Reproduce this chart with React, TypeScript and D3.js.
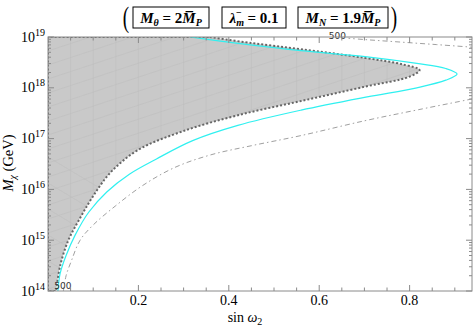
import React, { useEffect, useRef } from 'react';
import * as d3 from 'd3';

const width = 475;
const height = 327;
const margin = { top: 37, right: 3, bottom: 36, left: 48 };

// axis settings
const xDomain = [0, 0.938];
const yExpDomain = [14, 19];
const xMajor = [0.2, 0.4, 0.6, 0.8];
const yDecades = [14, 15, 16, 17, 18, 19];

// excluded (shaded) region boundary: [sin w2, log10 M_chi]
const regionEdge: [number, number][] = [
  [0.358, 19.0], [0.45, 18.88], [0.56, 18.76], [0.70, 18.59], [0.785, 18.46],
  [0.822, 18.35], [0.80, 18.22], [0.70, 18.02], [0.56, 17.74], [0.42, 17.46],
  [0.30, 17.15], [0.20, 16.78], [0.14, 16.35], [0.10, 15.87], [0.07, 15.42],
  [0.045, 15.0], [0.027, 14.5], [0.018, 14.0],
];

// cyan contour
const cyanCurve: [number, number][] = [
  [0.314, 19.0], [0.425, 18.87], [0.56, 18.73], [0.706, 18.61], [0.816, 18.48],
  [0.88, 18.38], [0.905, 18.27], [0.88, 18.15], [0.816, 18.0], [0.706, 17.82],
  [0.56, 17.56], [0.42, 17.26], [0.32, 16.96], [0.24, 16.6], [0.18, 16.3],
  [0.13, 15.95], [0.09, 15.55], [0.06, 15.1], [0.04, 14.7], [0.027, 14.35],
  [0.022, 14.0],
];

// "500" contour (dash-dot)
const dashUpper: [number, number][] = [
  [0.63, 19.0], [0.70, 18.95], [0.78, 18.9], [0.86, 18.85], [0.938, 18.8],
];
const dashLower: [number, number][] = [
  [0.938, 17.78], [0.82, 17.57], [0.70, 17.35], [0.56, 17.06], [0.45, 16.86],
  [0.36, 16.68], [0.28, 16.43], [0.21, 16.08], [0.15, 15.68], [0.10, 15.3],
  [0.071, 15.0], [0.052, 14.6], [0.040, 14.3], [0.034, 14.0],
];

const App = () => {
  const svgRef = useRef<SVGSVGElement | null>(null);

  useEffect(() => {
    if (!svgRef.current) return;
    const svg = d3.select(svgRef.current);
    svg.selectAll('*').remove();

    const x = d3.scaleLinear().domain(xDomain).range([margin.left, width - margin.right]);
    const y = d3.scaleLog()
      .domain([Math.pow(10, yExpDomain[0]), Math.pow(10, yExpDomain[1])])
      .range([height - margin.bottom, margin.top]);
    const py = (e: number) => y(Math.pow(10, e));

    const x0 = x.range()[0], x1 = x.range()[1];
    const y0 = py(yExpDomain[1]), y1 = py(yExpDomain[0]);

    svg.append('clipPath').attr('id', 'plotClip')
      .append('rect').attr('x', x0).attr('y', y0).attr('width', x1 - x0).attr('height', y1 - y0);

    const curve = d3.line<[number, number]>()
      .x(d => x(d[0]))
      .y(d => py(d[1]))
      .curve(d3.curveCatmullRom.alpha(0.5));

    const plot = svg.append('g').attr('clip-path', 'url(#plotClip)');

    // shaded region
    const regionPath = curve(regionEdge) + `L${x(0)},${py(14)}L${x(0)},${py(19)}Z`;
    svg.append('clipPath').attr('id', 'regionClip').append('path').attr('d', regionPath);
    plot.append('path').attr('d', regionPath).attr('fill', '#c9c9c9').attr('stroke', 'none');

    // faint mesh inside region
    const mesh = plot.append('g').attr('clip-path', 'url(#regionClip)')
      .attr('stroke', '#bcbcbc').attr('stroke-width', 0.5).attr('fill', 'none');
    d3.range(0.05, 0.9, 0.05).forEach(v => {
      mesh.append('line').attr('x1', x(v)).attr('x2', x(v)).attr('y1', y0).attr('y2', y1);
    });
    d3.range(-20, 40).forEach(i => {
      const b = y0 + i * 14;
      mesh.append('line').attr('x1', x0).attr('y1', b).attr('x2', x1).attr('y2', b - (x1 - x0) * 0.33);
    });
    d3.range(0, 12).forEach(i => {
      const b = y0 + 120 + i * 26;
      mesh.append('line').attr('x1', x0).attr('y1', b).attr('x2', x1).attr('y2', b + (x1 - x0) * 0.6);
    });

    plot.append('path').attr('d', regionPath)
      .attr('fill', 'none').attr('stroke', '#666').attr('stroke-width', 2).attr('stroke-dasharray', '2,2');

    // dash-dot contour
    [dashUpper, dashLower].forEach(pts => {
      plot.append('path').attr('d', curve(pts))
        .attr('fill', 'none').attr('stroke', '#a0a0a0').attr('stroke-width', 1)
        .attr('stroke-dasharray', '5,3,1.5,3');
    });

    // cyan contour
    plot.append('path').attr('d', curve(cyanCurve))
      .attr('fill', 'none').attr('stroke', '#30f0f0').attr('stroke-width', 1.2);

    // contour labels
    const lab = svg.append('g').attr('font-family', 'DejaVu Sans, sans-serif').attr('font-size', 9).attr('fill', '#333');
    lab.append('rect').attr('x', x(0.625)).attr('y', y0 - 4).attr('width', 18).attr('height', 6).attr('fill', 'white');
    lab.append('text').attr('x', x(0.64)).attr('y', y0 + 1.5).attr('text-anchor', 'middle').text('500');
    lab.append('text').attr('x', x(0.033)).attr('y', y1 - 2).attr('text-anchor', 'middle').text('500');

    // frame and ticks
    const frame = svg.append('g').attr('stroke', '#8a8a8a').attr('stroke-width', 1).attr('fill', 'none');
    frame.append('rect').attr('x', x0).attr('y', y0).attr('width', x1 - x0).attr('height', y1 - y0);

    const xMinor = d3.range(0.05, 0.94, 0.05);
    xMinor.forEach(v => {
      const major = xMajor.some(m => Math.abs(m - v) < 1e-6);
      const len = major ? 6 : 3.5;
      frame.append('line').attr('x1', x(v)).attr('x2', x(v)).attr('y1', y1).attr('y2', y1 - len);
      frame.append('line').attr('x1', x(v)).attr('x2', x(v)).attr('y1', y0).attr('y2', y0 + len);
    });
    yDecades.forEach(e => {
      [0, 1].forEach(side => {
        const xe = side === 0 ? x0 : x1;
        const dir = side === 0 ? 1 : -1;
        frame.append('line').attr('x1', xe).attr('x2', xe + dir * 6).attr('y1', py(e)).attr('y2', py(e));
        if (e < 19) {
          d3.range(2, 10).forEach(k => {
            const yy = py(e + Math.log10(k));
            frame.append('line').attr('x1', xe).attr('x2', xe + dir * 3).attr('y1', yy).attr('y2', yy);
          });
        }
      });
    });

    const labels = svg.append('g').attr('font-family', 'Liberation Serif, serif').attr('fill', '#000');
    xMajor.forEach(v => {
      labels.append('text').attr('x', x(v)).attr('y', y1 + 14).attr('text-anchor', 'middle')
        .attr('font-size', 14).text(d3.format('.1f')(v));
    });
    yDecades.forEach(e => {
      const t = labels.append('text').attr('x', x0 - 3).attr('y', py(e) + 4.5)
        .attr('text-anchor', 'end').attr('font-size', 14);
      t.append('tspan').text('10');
      t.append('tspan').attr('font-size', 10).attr('dy', -6).text(String(e));
    });

    // axis titles
    const xt = labels.append('text').attr('x', 245).attr('y', 322).attr('text-anchor', 'middle').attr('font-size', 14);
    xt.append('tspan').text('sin ');
    xt.append('tspan').attr('font-style', 'italic').text('ω');
    xt.append('tspan').attr('font-size', 10).attr('dy', 3).text('2');

    const yt = labels.append('text').attr('transform', `translate(13,${163}) rotate(-90)`)
      .attr('text-anchor', 'middle').attr('font-size', 14.5);
    yt.append('tspan').attr('font-style', 'italic').text('M');
    yt.append('tspan').attr('font-size', 10).attr('dy', 3).attr('font-style', 'italic').text('χ');
    yt.append('tspan').attr('dy', -3).text(' (GeV)');

    // header with boxed parameters
    const hdr = svg.append('g').attr('font-family', 'Liberation Serif, serif').attr('font-weight', 'bold').attr('font-style', 'italic');
    hdr.append('text').attr('transform', 'translate(126,27) scale(0.8,1.25)').attr('font-size', 24)
      .attr('font-style', 'normal').attr('font-weight', 'normal').attr('text-anchor', 'middle').text('(');
    hdr.append('text').attr('transform', 'translate(394,27) scale(0.8,1.25)').attr('font-size', 24)
      .attr('font-style', 'normal').attr('font-weight', 'normal').attr('text-anchor', 'middle').text(')');
    const boxes = [[133, 209], [222, 286], [298, 388]];
    boxes.forEach(b => {
      hdr.append('rect').attr('x', b[0]).attr('y', 7).attr('width', b[1] - b[0]).attr('height', 21)
        .attr('fill', 'none').attr('stroke', '#000').attr('stroke-width', 1);
    });
    const t1 = hdr.append('text').attr('x', 171).attr('y', 23).attr('text-anchor', 'middle').attr('font-size', 15);
    t1.append('tspan').text('M');
    t1.append('tspan').attr('font-size', 10).attr('dy', 3).text('θ');
    t1.append('tspan').attr('dy', -3).attr('font-style', 'normal').text(' = 2');
    t1.append('tspan').text('M\u0305');
    t1.append('tspan').attr('font-size', 10).attr('dy', 3).text('P');

    const t2 = hdr.append('text').attr('x', 254).attr('y', 23).attr('text-anchor', 'middle').attr('font-size', 15);
    t2.append('tspan').text('λ');
    t2.append('tspan').attr('font-size', 10).attr('dy', 3).text('m');
    t2.append('tspan').attr('font-size', 10).attr('dx', -8).attr('dy', -10).attr('font-style', 'normal').text('−');
    t2.append('tspan').attr('dy', 7).attr('dx', 2).attr('font-style', 'normal').text(' = 0.1');

    const t3 = hdr.append('text').attr('x', 343).attr('y', 23).attr('text-anchor', 'middle').attr('font-size', 15);
    t3.append('tspan').text('M');
    t3.append('tspan').attr('font-size', 10).attr('dy', 3).text('N');
    t3.append('tspan').attr('dy', -3).attr('font-style', 'normal').text(' = 1.9');
    t3.append('tspan').text('M\u0305');
    t3.append('tspan').attr('font-size', 10).attr('dy', 3).text('P');
  }, []);

  return (
    <svg ref={svgRef} width={width} height={height} style={{ display: 'block', position: 'absolute', left: 0, top: 0 }} />
  );
};

export default App;
